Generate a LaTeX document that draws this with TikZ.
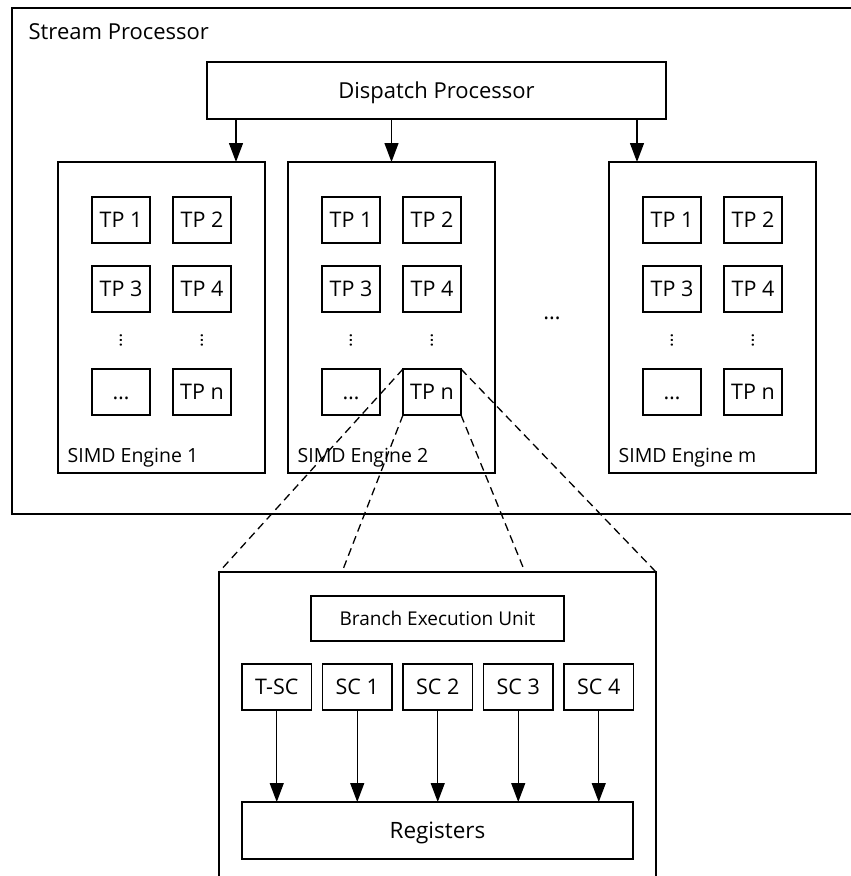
\documentclass[tikz,border=0pt]{standalone}
\usepackage{fontspec}
\setmainfont{Open Sans}
\usetikzlibrary{positioning,calc,arrows.meta}

\begin{document}
\begin{tikzpicture}[
  x=1pt,y=-1pt,
  font=\fontsize{22}{26}\selectfont,
  line width=1.3pt,
  >={Triangle[length=19pt,width=14pt]},
  box/.style={draw,line width=1.3pt,inner sep=0pt,outer sep=0pt,align=center,text height=15.5pt,text depth=0pt},
  tp/.style={box,minimum width=58pt,minimum height=46pt,font=\fontsize{21.5}{25}\selectfont},
  eng/.style={box,anchor=north west,minimum width=207pt,minimum height=311pt},
  sc/.style={tp,minimum width=69.5pt},
  lbl/.style={inner sep=0pt,anchor=base west},
  zoomline/.style={line width=1.3pt,dash pattern=on 8pt off 5pt},
  ]
\useasboundingbox (0,0) rectangle (851,876);
\clip (0,0) rectangle (851,876);

% ---- stream processor frame ----
\node[box,anchor=north west,minimum width=856pt,minimum height=506pt] (sp) at (12,8) {};
\node[lbl] (splbl) at (28,39) {Stream Processor};
\node[box,anchor=north west,minimum width=459pt,minimum height=57pt] (disp) at (207,62) {Dispatch Processor};

% ---- SIMD engines with their TP grid ----
\foreach \n/\x in {1/58,2/288,m/609}{
  \node[eng] (e\n) at (\x,162) {};
  \node[tp,anchor=north west] (e\n-1) at (\x+34,197) {TP 1};
  \node[tp,right=23pt of e\n-1] (e\n-2) {TP 2};
  \node[tp,below=23pt of e\n-1] (e\n-3) {TP 3};
  \node[tp,right=23pt of e\n-3] (e\n-4) {TP 4};
  \node[tp,below=57pt of e\n-3] (e\n-5) {…};
  \node[tp,right=23pt of e\n-5] (e\n-6) {TP n};
  \node[rotate=90,inner sep=0pt,font=\fontsize{18}{22}\selectfont] at ($(e\n-3.south)!0.5!(e\n-5.north)$) {…};
  \node[rotate=90,inner sep=0pt,font=\fontsize{18}{22}\selectfont] at ($(e\n-4.south)!0.5!(e\n-6.north)$) {…};
  \node[lbl,font=\fontsize{19.5}{23}\selectfont] at ([xshift=9pt,yshift=11pt]e\n.south west) {SIMD Engine \n};
}
\node[inner sep=0pt] (more) at (552,318) {…};

% ---- dispatch arrows ----
\draw[->] ([xshift=29pt]disp.south west) -- ([xshift=29pt]disp.south west |- e1.north);
\draw[->] (disp.south -| e2.north) -- (e2.north);
\draw[->] ([xshift=-29pt]disp.south east) -- ([xshift=-29pt]disp.south east |- em.north);

% ---- TP n close-up ----
\node[box,anchor=north west,minimum width=437pt,minimum height=330pt] (tpd) at (219,572) {};
\node[box,anchor=north west,minimum width=253pt,minimum height=45pt,font=\fontsize{19}{23}\selectfont,text height=14pt] (beu) at (311,596) {Branch Execution Unit};
\node[sc,anchor=north west] (tsc) at (242,664) {T-SC};
\node[sc,right=11pt of tsc] (sc1) {SC 1};
\node[sc,right=11pt of sc1] (sc2) {SC 2};
\node[sc,right=11pt of sc2] (sc3) {SC 3};
\node[sc,right=11pt of sc3] (sc4) {SC 4};
\node[box,anchor=north west,minimum width=391pt,minimum height=57pt,font=\fontsize{22.5}{27}\selectfont,text height=16pt] (reg) at (242,802) {Registers};

\foreach \s in {tsc,sc1,sc2,sc3,sc4}
  \draw[->] (\s.south) -- (\s.south |- reg.north);

% ---- zoom lines ----
\coordinate (zl) at ($(tpd.north west)+(123,0)$);
\coordinate (zr) at ($(tpd.north west)+(306,0)$);
\draw[zoomline] (e2-6.north west) -- (tpd.north west);
\draw[zoomline] (e2-6.north east) -- (tpd.north east);
\draw[zoomline] (e2-6.south west) -- (zl);
\draw[zoomline] (e2-6.south east) -- (zr);

\end{tikzpicture}
\end{document}
